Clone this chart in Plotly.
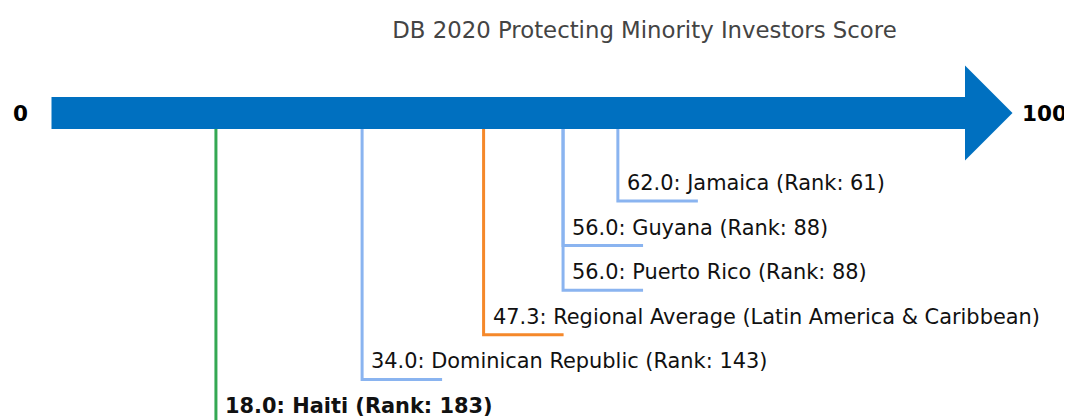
import plotly.graph_objects as go

# ---- data ----
names = ["Jamaica", "Guyana", "Puerto Rico",
         "Regional Average (Latin America & Caribbean)",
         "Dominican Republic", "Haiti"]
scores = [62.0, 56.0, 56.0, 47.3, 34.0, 18.0]
ranks = [61, 88, 88, None, 143, 183]
kinds = ["peer", "peer", "peer", "average", "peer", "focus"]
title_text = "DB 2020 Protecting Minority Investors Score"
axis_min, axis_max = 0, 100

# ---- styles ----
PAGE_OFF = 8                      # default body margin of the html page
W, H = 1072 - PAGE_OFF, 420 - PAGE_OFF
x0_px, px_per_unit = 51.5 - PAGE_OFF, 9.135
kind_color = {"peer": "#8ab4f0", "average": "#f5882a", "focus": "#34a853"}
arrow_color = "#0070c0"
font_family = "DejaVu Sans"
arrow_cy, body_half, head_half = 113 - PAGE_OFF, 16, 47.5
head_len_px = 47.5
first_level_y, level_step = 201 - PAGE_OFF, 44.6
underline_px = 80

xr = [-x0_px / px_per_unit, (W - x0_px) / px_per_unit]
fig = go.Figure()

# arrow polygon
head_len = head_len_px / px_per_unit
ax = [axis_min, axis_max, axis_max, axis_max + head_len, axis_max, axis_max, axis_min, axis_min]
ay = [arrow_cy - body_half, arrow_cy - body_half, arrow_cy - head_half, arrow_cy,
      arrow_cy + head_half, arrow_cy + body_half, arrow_cy + body_half, arrow_cy - body_half]
fig.add_trace(go.Scatter(x=ax, y=ay, mode="lines", fill="toself", fillcolor=arrow_color,
                         line=dict(color=arrow_color, width=0), hoverinfo="skip", showlegend=False))

ul = underline_px / px_per_unit
for i, (n, s, r, k) in enumerate(zip(names, scores, ranks, kinds)):
    uy = first_level_y + i * level_step
    c = kind_color[k]
    fig.add_trace(go.Scatter(x=[s, s, s + ul], y=[arrow_cy + body_half, uy, uy], mode="lines",
                             line=dict(color=c, width=3), hoverinfo="skip", showlegend=False))
    txt = f"{s:.1f}: {n}" + (f" (Rank: {r})" if r is not None else "")
    if k == "focus":
        txt = f"<b>{txt}</b>"
    fig.add_annotation(x=s, y=uy - 18, xref="x", yref="y", text=txt, showarrow=False,
                       xanchor="left", yanchor="middle", xshift=9, borderpad=0, borderwidth=0,
                       font=dict(family=font_family, size=20.9, color="#111111"))

# end labels
fig.add_annotation(x=axis_min, y=arrow_cy, text=f"<b>{axis_min}</b>", showarrow=False,
                   xanchor="right", yanchor="middle", xshift=-23, borderpad=0,
                   font=dict(family=font_family, size=21.5, color="#000000"))
fig.add_annotation(x=axis_max, y=arrow_cy, text=f"<b>{axis_max}</b>", showarrow=False,
                   xanchor="left", yanchor="middle", xshift=56, borderpad=0,
                   font=dict(family=font_family, size=21.5, color="#000000"))

fig.update_layout(
    width=W, height=H, margin=dict(l=0, r=0, t=0, b=0),
    paper_bgcolor="white", plot_bgcolor="white",
    title=dict(text=title_text, x=(644.5 - PAGE_OFF) / W, xanchor="center",
               y=1 - (30 - PAGE_OFF) / H, yanchor="middle",
               font=dict(family=font_family, size=22.8, color="#444444")),
    xaxis=dict(range=xr, visible=False, fixedrange=True),
    yaxis=dict(range=[H, 0], visible=False, fixedrange=True),
    showlegend=False,
)
fig.write_html("out.html")
